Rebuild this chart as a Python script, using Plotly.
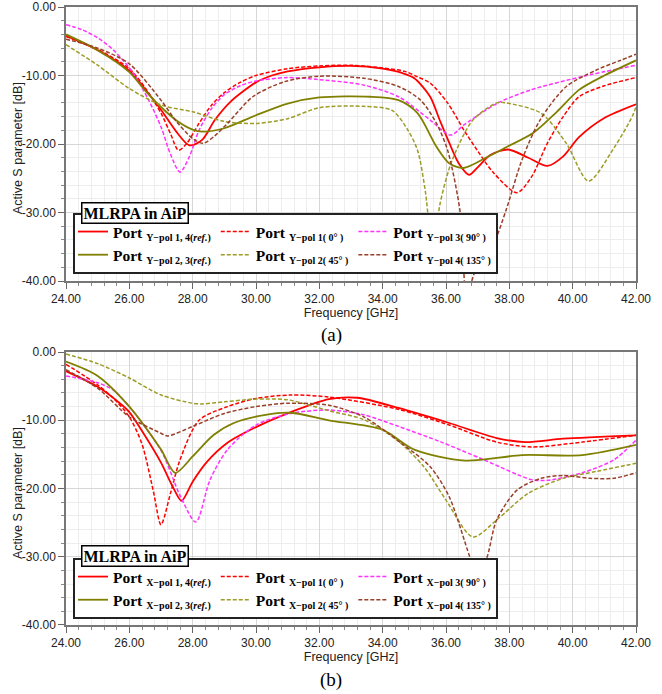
import plotly.graph_objects as go

# ---------------- Panel (a): Y-pol ----------------
fa_14ref = [24, 25, 26, 26.5, 27, 27.5, 27.9, 28.3, 28.7, 29.2, 30, 30.5, 31, 32, 33, 34, 34.6, 35, 35.5, 35.8, 36.1, 36.4, 36.73, 37.0, 37.4, 37.96, 38.6, 39.2, 39.7, 40.2, 41, 42]
da_14ref = [-4.2, -6.3, -9.3, -12.0, -15.0, -18.3, -20.2, -19.4, -16.5, -13.8, -11.0, -10.0, -9.4, -8.8, -8.6, -9.0, -9.6, -10.4, -13.1, -16.5, -19.8, -22.8, -24.5, -23.4, -21.6, -20.8, -22.0, -23.2, -21.8, -19.0, -16.2, -14.2]

fa_1 = [24, 25, 26, 26.5, 27, 27.3, 27.55, 27.8, 28.2, 28.6, 29, 29.5, 30, 31, 32, 33, 34, 34.7, 35.1, 35.5, 36.05, 36.57, 37.0, 37.5, 38.24, 38.7, 39.2, 39.7, 40.2, 41, 42]
da_1 = [-4.3, -6.2, -9.0, -11.8, -15.5, -18.5, -20.9, -20.0, -17.0, -14.3, -12.5, -11.0, -10.0, -9.0, -8.6, -8.5, -8.9, -9.4, -10.2, -11.1, -14.0, -18.0, -21.0, -24.2, -27.1, -24.8, -19.9, -16.0, -13.1, -11.5, -10.3]

fa_3 = [24, 24.5, 25, 25.5, 26.1, 26.6, 27.0, 27.3, 27.6, 27.9, 28.2, 28.6, 29, 29.5, 30, 31, 32, 33.4, 34.5, 35.5, 36.15, 36.57, 37.64, 38.68, 40.26, 42]
da_3 = [-2.6, -3.3, -4.5, -6.3, -9.5, -13.5, -17.5, -21.5, -24.1, -21.8, -18.0, -14.8, -12.8, -11.5, -10.8, -10.3, -10.6, -11.4, -13.1, -16.5, -18.7, -17.2, -14.0, -12.1, -10.2, -8.5]

fa_23ref = [24, 25, 26, 26.5, 27, 27.5, 28, 28.3, 29, 30, 31, 32, 33.6, 34.5, 35.1, 35.7, 36.1, 36.55, 37.3, 37.93, 38.75, 39.5, 40.2, 41, 42]
da_23ref = [-4.0, -6.3, -9.5, -12.2, -14.6, -16.6, -17.9, -18.2, -17.7, -15.8, -14.1, -13.2, -13.1, -13.6, -15.5, -20.4, -22.8, -23.5, -21.9, -20.4, -18.4, -15.3, -12.1, -10.0, -7.8]

fa_2 = [24, 25, 26, 27, 28, 29, 30, 31, 32, 33.4, 34.3, 34.8, 35.1, 35.35, 35.6, 35.8, 36.2, 36.85, 37.6, 37.9, 39, 39.8, 40.5, 41.3, 41.9, 42]
da_2 = [-5.5, -8.5, -11.9, -14.3, -15.3, -16.7, -17.0, -16.3, -14.7, -14.5, -15.1, -18.0, -20.9, -27.0, -37.0, -29.0, -22.3, -16.5, -14.0, -14.0, -15.5, -19.9, -25.4, -20.6, -15.8, -14.5]

fa_4 = [24, 25, 26, 27, 27.5, 28.0, 28.33, 28.7, 29.1, 29.9, 30.9, 32, 33.4, 34.5, 35.2, 35.7, 36.05, 36.45, 36.65, 36.9, 37.2, 37.5, 37.9, 38.4, 38.97, 39.8, 40.75, 41.5, 42]
da_4 = [-4.7, -6.0, -8.3, -13.6, -16.8, -19.2, -19.9, -18.8, -17.0, -13.1, -10.9, -10.1, -10.4, -11.6, -13.6, -17.0, -20.9, -30.0, -42.0, -38.8, -36.0, -34.5, -29.6, -22.3, -16.5, -11.6, -9.2, -7.8, -6.9]

# ---------------- Panel (b): X-pol ----------------
fb_14ref = [24, 25, 25.7, 26, 26.5, 27, 27.4, 27.65, 28.0, 28.45, 29.1, 30.0, 31.1, 32.3, 33.2, 34.5, 36.1, 37.6, 38.5, 39.7, 42]
db_14ref = [-2.8, -5.1, -7.5, -8.8, -12.3, -16.2, -20.0, -21.8, -19.0, -16.1, -13.3, -11.0, -8.8, -6.9, -6.7, -8.2, -10.4, -12.6, -13.2, -12.7, -12.2]

fb_1 = [24, 25, 25.5, 26, 26.4, 26.75, 27.0, 27.3, 27.6, 28.2, 29.1, 30, 31.1, 32.3, 34.5, 36.1, 37.6, 38.7, 40.3, 42]
db_1 = [-1.8, -4.8, -6.8, -9.5, -13.5, -20.2, -25.3, -20.7, -15.8, -10.0, -8.0, -6.8, -6.3, -6.6, -8.4, -10.7, -13.2, -13.9, -13.2, -12.2]

fb_3 = [24, 25, 25.5, 26, 27, 27.6, 28.1, 28.55, 29.1, 30.0, 31.1, 32.3, 33.4, 34.5, 35.85, 37.1, 38.7, 39.2, 40.3, 41.3, 42]
db_3 = [-3.5, -4.5, -5.6, -8.0, -14.4, -21.0, -24.9, -18.7, -14.3, -10.7, -9.0, -8.5, -9.2, -10.9, -13.2, -15.6, -18.7, -18.8, -17.7, -15.8, -12.9]

fb_23ref = [24, 25, 26, 27, 27.45, 28.0, 28.65, 29.3, 30.3, 31.1, 32.3, 34, 35, 36.6, 38.4, 40.3, 42]
db_23ref = [-1.4, -3.5, -8.0, -14.3, -17.7, -15.3, -12.2, -10.4, -9.2, -8.9, -10.0, -11.4, -14.3, -15.9, -15.1, -15.1, -13.6]

fb_2 = [24, 25, 26, 27, 28, 28.3, 29, 30, 31, 32.3, 33.4, 34.45, 35.3, 36.0, 36.85, 37.6, 38.6, 39.7, 40.75, 42]
db_2 = [-0.3, -1.7, -3.8, -6.3, -7.5, -7.6, -7.3, -6.9, -7.0, -8.6, -9.9, -12.9, -16.8, -21.7, -27.1, -24.6, -20.7, -18.5, -17.5, -16.3]

fb_4 = [24, 25, 26, 27, 27.2, 28, 29, 30, 31, 32.3, 33.4, 34.6, 35.5, 36.1, 36.75, 37.0, 37.3, 37.6, 38.25, 39.0, 39.7, 40.55, 41.3, 42]
db_4 = [-2.6, -5.3, -9.5, -11.9, -12.3, -10.9, -9.0, -8.0, -7.5, -7.8, -9.5, -13.4, -16.8, -21.2, -30.0, -33.0, -30.0, -24.6, -20.2, -18.5, -18.1, -18.5, -18.5, -17.7]

x_tick_vals = [24, 26, 28, 30, 32, 34, 36, 38, 40, 42]
x_tick_text = ["24.00", "26.00", "28.00", "30.00", "32.00", "34.00", "36.00", "38.00", "40.00", "42.00"]
y_tick_vals = [0, -10, -20, -30, -40]
y_tick_text = ["0.00", "-10.00", "-20.00", "-30.00", "-40.00"]

RED = "#ff0000"
MAG = "#ff33ff"
OLIVE = "#808000"
OLIVE_D = "#9c9c26"
BROWN = "#99402a"


def name(pol, rest):
    return ("<b>Port </b><sub><span style='font-size:10px'><b>" + pol + "\u2212pol " + rest +
            "</b></span></sub>")


# (x, y, colour, style, legend text, legend column)
panel_a = [
    (fa_14ref, da_14ref, RED, "solid", name("Y", "1, 4(<i>ref.</i>)"), "c1"),
    (fa_1, da_1, RED, "dash", name("Y", "1( 0° )"), "c2"),
    (fa_3, da_3, MAG, "dash", name("Y", "3( 90° )"), "c3"),
    (fa_23ref, da_23ref, OLIVE, "solid", name("Y", "2, 3(<i>ref.</i>)"), "c1"),
    (fa_2, da_2, OLIVE_D, "dash", name("Y", "2( 45° )"), "c2"),
    (fa_4, da_4, BROWN, "dash", name("Y", "4( 135° )"), "c3"),
]
panel_b = [
    (fb_14ref, db_14ref, RED, "solid", name("X", "1, 4(<i>ref.</i>)"), "c1"),
    (fb_1, db_1, RED, "dash", name("X", "1( 0° )"), "c2"),
    (fb_3, db_3, MAG, "dash", name("X", "3( 90° )"), "c3"),
    (fb_23ref, db_23ref, OLIVE, "solid", name("X", "2, 3(<i>ref.</i>)"), "c1"),
    (fb_2, db_2, OLIVE_D, "dash", name("X", "2( 45° )"), "c2"),
    (fb_4, db_4, BROWN, "dash", name("X", "4( 135° )"), "c3"),
]

fig = go.Figure()
for panel, xa, ya, lg, pre in ((panel_a, "x", "y", "legend", "a"), (panel_b, "x2", "y2", "legend2", "b")):
    for (xs, ys, col, sty, nm, grp) in panel:
        fig.add_trace(go.Scatter(x=xs, y=ys, mode="lines", name=nm, xaxis=xa, yaxis=ya, legend=lg,
                                 legendgroup=pre + grp,
                                 line=dict(color=col, width=1.8 if sty == "solid" else 1.5,
                                           dash="solid" if sty == "solid" else "4px,2px",
                                           shape="spline", smoothing=0.8)))

TICKFONT = dict(family="Liberation Sans, Arial", size=12, color="#222")
TITLEFONT = dict(family="Liberation Sans, Arial", size=12.5, color="#222")


def xaxis(anchor):
    return dict(range=[24, 42], anchor=anchor, tickmode="array", tickvals=x_tick_vals, ticktext=x_tick_text,
                ticks="outside", ticklen=6, tickcolor="#666", tickfont=TICKFONT,
                showline=True, linecolor="#777", linewidth=1.5, mirror=True,
                showgrid=True, gridcolor="#d6d6d6", gridwidth=1, zeroline=False,
                minor=dict(tick0=24, dtick=0.4, ticks="outside", ticklen=3, tickcolor="#888",
                           showgrid=True, gridcolor="#ededed", gridwidth=1),
                title=dict(text="Frequency [GHz]", font=TITLEFONT, standoff=3), automargin=False)


def yaxis(anchor, dom):
    return dict(range=[-40, 0], domain=dom, anchor=anchor, tickmode="array", tickvals=y_tick_vals, ticktext=y_tick_text,
                ticks="outside", ticklen=6, tickcolor="#666", tickfont=TICKFONT,
                showline=True, linecolor="#777", linewidth=1.5, mirror=True,
                showgrid=True, gridcolor="#d6d6d6", gridwidth=1, zeroline=False,
                minor=dict(tick0=0, dtick=2, ticks="outside", ticklen=3, tickcolor="#888",
                           showgrid=True, gridcolor="#ededed", gridwidth=1),
                automargin=False)


LEGFONT = dict(family="Liberation Serif, DejaVu Serif", size=15.5, color="black")
leg_common = dict(orientation="h", xanchor="left", yanchor="top", bgcolor="white",
                  bordercolor="#222", borderwidth=2, font=LEGFONT, traceorder="grouped",
                  itemwidth=30, tracegroupgap=0, groupclick="toggleitem")

fig.update_layout(
    width=662, height=694,
    margin=dict(l=66, r=26, t=7, b=69),
    paper_bgcolor="white", plot_bgcolor="white",
    xaxis=xaxis("y"), yaxis=yaxis("x", [0.5566, 1.0]),
    xaxis2=xaxis("y2"), yaxis2=yaxis("x2", [0.0, 0.4417]),
    legend=dict(x=0.0123, y=0.6667, **leg_common),
    legend2=dict(x=0.0123, y=0.1084, **leg_common),
    showlegend=True,
)

# y-axis titles
for yc in (0.7718, 0.2136):
    fig.add_annotation(xref="paper", yref="paper", x=-0.084, y=yc, xanchor="center", yanchor="middle",
                       text="Active S parameter [dB]", textangle=-90, showarrow=False, font=TITLEFONT)

for ytop in (0.6845, 0.1294):
    fig.add_annotation(xref="paper", yref="paper", x=0.026, y=ytop, xanchor="left", yanchor="top",
                       text="<b>MLRPA in AiP</b>", showarrow=False,
                       font=dict(family="Liberation Serif, DejaVu Serif", size=16, color="black"),
                       bgcolor="white", bordercolor="black", borderwidth=1.5, borderpad=1)

for (lab, yy) in (("(a)", 0.469), ("(b)", -0.089)):
    fig.add_annotation(xref="paper", yref="paper", x=0.465, y=yy, xanchor="center", yanchor="middle",
                       text=lab, showarrow=False,
                       font=dict(family="Liberation Serif, Times New Roman", size=19, color="black"))

fig.write_html("out.html")
